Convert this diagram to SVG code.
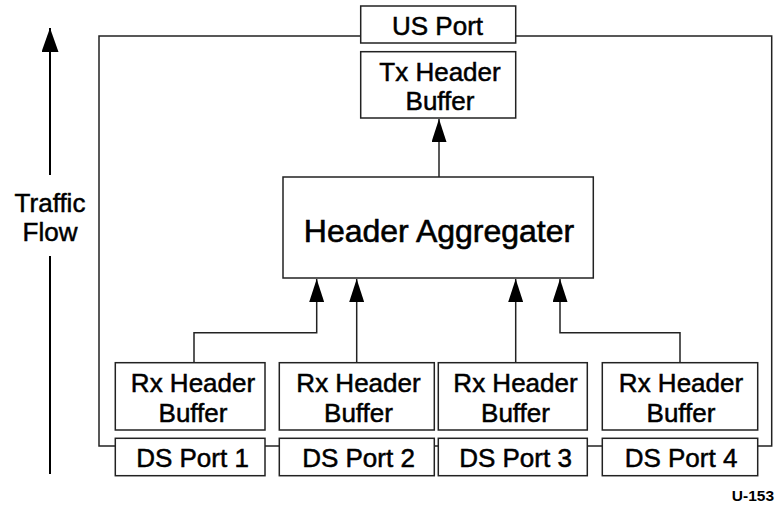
<svg xmlns="http://www.w3.org/2000/svg" width="777" height="505" viewBox="0 0 777 505">
<style>
  .box { fill: #fff; stroke: #222; stroke-width: 1.5; }
  .ln { fill: none; stroke: #222; stroke-width: 1.5; }
  .t { font-family: "Liberation Sans", Arial, sans-serif; font-size: 26px; fill: #000; stroke: #000; stroke-width: 0.5; text-anchor: middle; }
  .big { font-size: 32px; stroke-width: 0.6; }
</style>
<defs>
  <marker id="ah" markerUnits="userSpaceOnUse" markerWidth="23" markerHeight="15" refX="23" refY="7.5" orient="auto" viewBox="0 0 23 15">
    <path d="M0,0 L23,7.5 L0,15 Z" fill="#000"/>
  </marker>
  <marker id="ahb" markerUnits="userSpaceOnUse" markerWidth="24" markerHeight="17" refX="24" refY="8.5" orient="auto" viewBox="0 0 24 17">
    <path d="M0,0 L24,8.5 L0,17 Z" fill="#000"/>
  </marker>
</defs>
<rect width="777" height="505" fill="#fff"/>

<g id="connectors">
  <polyline class="ln" points="360.7,36 99,36 99,446 115.3,446"/>
  <polyline class="ln" points="515.7,36 771.7,36 771.7,446 757.7,446"/>
  <line class="ln" x1="265" y1="446" x2="279.3" y2="446"/>
  <line class="ln" x1="434.3" y1="446" x2="438.3" y2="446"/>
  <line class="ln" x1="587.3" y1="446" x2="602.3" y2="446"/>
  <line class="ln" x1="439" y1="177" x2="439" y2="119" marker-end="url(#ah)"/>
  <polyline class="ln" points="194,362.7 194,332.7 316.7,332.7 316.7,279" marker-end="url(#ah)"/>
  <line class="ln" x1="356.7" y1="362.7" x2="356.7" y2="279" marker-end="url(#ah)"/>
  <line class="ln" x1="515.7" y1="362.7" x2="515.7" y2="279" marker-end="url(#ah)"/>
  <polyline class="ln" points="680,362.7 680,332.7 560,332.7 560,279" marker-end="url(#ah)"/>
</g>

<g id="traffic-flow">
  <line x1="50" y1="175" x2="50" y2="28" stroke="#000" stroke-width="2" marker-end="url(#ahb)"/>
  <line x1="50" y1="256" x2="50" y2="474" stroke="#000" stroke-width="2"/>
  <text class="t" x="50" y="212">Traffic</text>
  <text class="t" x="50" y="241">Flow</text>
</g>

<g id="us-port">
  <rect class="box" x="360.7" y="6" width="155" height="37"/>
  <text class="t" x="437.5" y="35">US Port</text>
</g>

<g id="tx-header-buffer">
  <rect class="box" x="360.7" y="51.7" width="155" height="66.3"/>
  <text class="t" x="440" y="81">Tx Header</text>
  <text class="t" x="440" y="110">Buffer</text>
</g>

<g id="header-aggregater">
  <rect class="box" x="283" y="177" width="310.3" height="101"/>
  <text class="t big" x="439" y="241.5">Header Aggregater</text>
</g>

<g id="rx1">
  <rect class="box" x="115.3" y="362.7" width="149.7" height="67.3"/>
  <text class="t" x="193" y="392.3">Rx Header</text>
  <text class="t" x="193" y="421.7">Buffer</text>
</g>
<g id="rx2">
  <rect class="box" x="279.3" y="362.7" width="155" height="67.3"/>
  <text class="t" x="358.5" y="392.3">Rx Header</text>
  <text class="t" x="358.5" y="421.7">Buffer</text>
</g>
<g id="rx3">
  <rect class="box" x="438.3" y="362.7" width="149" height="67.3"/>
  <text class="t" x="515.5" y="392.3">Rx Header</text>
  <text class="t" x="515.5" y="421.7">Buffer</text>
</g>
<g id="rx4">
  <rect class="box" x="602.3" y="362.7" width="155.4" height="67.3"/>
  <text class="t" x="681" y="392.3">Rx Header</text>
  <text class="t" x="681" y="421.7">Buffer</text>
</g>

<g id="ds1">
  <rect class="box" x="115.3" y="438.3" width="149.7" height="37.4"/>
  <text class="t" x="192.5" y="466.7">DS Port 1</text>
</g>
<g id="ds2">
  <rect class="box" x="279.3" y="438.3" width="155" height="37.4"/>
  <text class="t" x="358.5" y="466.7">DS Port 2</text>
</g>
<g id="ds3">
  <rect class="box" x="438.3" y="438.3" width="149" height="37.4"/>
  <text class="t" x="515.5" y="466.7">DS Port 3</text>
</g>
<g id="ds4">
  <rect class="box" x="602.3" y="438.3" width="155.4" height="37.4"/>
  <text class="t" x="681" y="466.7">DS Port 4</text>
</g>

<text x="774" y="500.5" font-family="Liberation Sans, Arial, sans-serif" font-size="15.5" font-weight="bold" text-anchor="end">U-153</text>
</svg>
